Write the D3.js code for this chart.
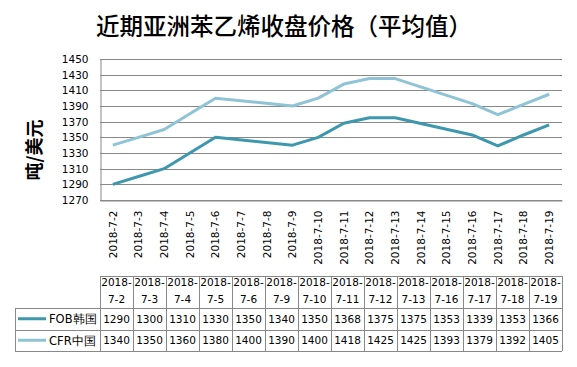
<!DOCTYPE html>
<html><head><meta charset="utf-8">
<script src="https://cdn.jsdelivr.net/npm/d3@7"></script>
<style>body{margin:0;background:#fff}svg{display:block}</style>
</head><body>
<script>
const title = "近期亚洲苯乙烯收盘价格（平均值）";
const yTitle = "吨/美元";
const axisDates = ["2018-7-2","2018-7-3","2018-7-4","2018-7-5","2018-7-6","2018-7-7","2018-7-8","2018-7-9","2018-7-10","2018-7-11","2018-7-12","2018-7-13","2018-7-14","2018-7-15","2018-7-16","2018-7-17","2018-7-18","2018-7-19"];
const dataDates = ["2018-7-2","2018-7-3","2018-7-4","2018-7-5","2018-7-6","2018-7-9","2018-7-10","2018-7-11","2018-7-12","2018-7-13","2018-7-16","2018-7-17","2018-7-18","2018-7-19"];
const seriesNames = ["FOB韩国","CFR中国"];
const fob = [1290,1300,1310,1330,1350,1340,1350,1368,1375,1375,1353,1339,1353,1366];
const cfr = [1340,1350,1360,1380,1400,1390,1400,1418,1425,1425,1393,1379,1392,1405];
const yTicks = [1270,1290,1310,1330,1350,1370,1390,1410,1430,1450];
const colors = ["#3d97ad","#8fc3d6"];

const W = 577, H = 367;
const svg = d3.select("body").append("svg").attr("width", W).attr("height", H);
const plotL = 100, plotR = 562, plotT = 59, plotB = 200;

const x = d3.scaleBand().domain(axisDates).range([plotL, plotR]);
const y = d3.scaleLinear().domain([1270,1450]).range([plotB, plotT]);

svg.append("text").attr("x", 284).attr("y", 35).attr("text-anchor","middle")
  .attr("font-family","Noto Sans CJK SC").attr("font-size",23.5).attr("font-weight",500)
  .attr("fill","#000").text(title);

// gridlines
svg.append("g").selectAll("line").data(yTicks).join("line")
  .attr("x1", plotL).attr("x2", plotR)
  .attr("y1", d=>Math.round(y(d))+0.5).attr("y2", d=>Math.round(y(d))+0.5)
  .attr("stroke","#888").attr("stroke-width",1);

const yAxis = svg.append("g").attr("transform",`translate(${plotL+0.5},0)`)
  .call(d3.axisLeft(y).tickValues(yTicks).tickSize(0).tickPadding(12).tickFormat(d3.format("d")));
yAxis.select(".domain").attr("stroke","#888");
yAxis.selectAll("text").attr("font-family","DejaVu Sans").attr("font-size",10.5).attr("fill","#000");

const xAxis = svg.append("g").attr("transform",`translate(0,${Math.round(plotB)+0.5})`)
  .call(d3.axisBottom(x).tickSize(0));
xAxis.select(".domain").attr("stroke","#888");
xAxis.selectAll("text").attr("font-family","DejaVu Sans").attr("font-size",10.5).attr("fill","#000")
  .attr("transform","rotate(-90)").attr("text-anchor","end").attr("dx","-8").attr("dy","0.35em").attr("y",0).attr("x",-2);

svg.append("text").attr("transform","translate(41,150) rotate(-90)").attr("text-anchor","middle")
  .attr("font-family","Noto Sans CJK SC").attr("font-size",18).attr("font-weight",700).text(yTitle);

const line = d3.line().x((d,i)=>x(dataDates[i])+x.bandwidth()/2).y(d=>y(d));
[fob, cfr].forEach((s,k)=>{
  svg.append("path").datum(s).attr("d", line).attr("fill","none")
    .attr("stroke", colors[k]).attr("stroke-width",3).attr("stroke-linejoin","round");
});

// table
const tL = 15, cL = 100, tR = 562, rows = [276, 308, 329.5, 351];
const cx = d3.scaleBand().domain(dataDates).range([cL, tR]);
const tg = svg.append("g").attr("stroke","#888").attr("stroke-width",1).attr("fill","none");
const px = v=>Math.round(v)+0.5;
tg.append("line").attr("x1",cL).attr("x2",tR).attr("y1",px(rows[0])).attr("y2",px(rows[0]));
[1,2,3].forEach(r=>tg.append("line").attr("x1",tL).attr("x2",tR).attr("y1",px(rows[r])).attr("y2",px(rows[r])));
tg.append("line").attr("x1",px(tL)).attr("x2",px(tL)).attr("y1",rows[1]).attr("y2",rows[3]);
dataDates.forEach(d=>tg.append("line").attr("x1",px(cx(d))).attr("x2",px(cx(d))).attr("y1",rows[0]).attr("y2",rows[3]));
tg.append("line").attr("x1",px(tR)).attr("x2",px(tR)).attr("y1",rows[0]).attr("y2",rows[3]);

const hdr = svg.append("g").attr("font-family","DejaVu Sans").attr("font-size",10.5).attr("text-anchor","middle").attr("fill","#000");
dataDates.forEach(d=>{
  const parts = d.split("-");
  const cxm = cx(d)+cx.bandwidth()/2;
  hdr.append("text").attr("x",cxm).attr("y",286).text(parts[0]+"-");
  hdr.append("text").attr("x",cxm).attr("y",303).text(parts[1]+"-"+parts[2]);
});
[fob, cfr].forEach((s,k)=>{
  const cy = (rows[k+1]+rows[k+2])/2;
  s.forEach((v,i)=>{
    hdr.append("text").attr("x",cx(dataDates[i])+cx.bandwidth()/2).attr("y",cy+4).text(v);
  });
  svg.append("line").attr("x1",18).attr("x2",46).attr("y1",cy).attr("y2",cy)
    .attr("stroke",colors[k]).attr("stroke-width",3);
  svg.append("text").attr("x",49).attr("y",cy+4.5).attr("font-family","DejaVu Sans").attr("font-size",11.5)
    .attr("fill","#000").text(seriesNames[k]);
});
</script>
</body></html>
